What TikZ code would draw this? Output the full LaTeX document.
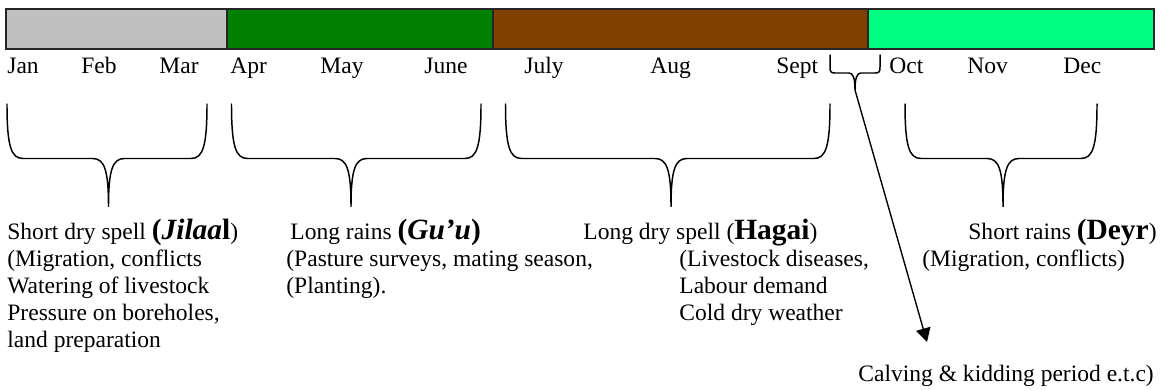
\documentclass[tikz,border=0pt]{standalone}
\usepackage{fontspec}
\setmainfont{Liberation Serif}
\usetikzlibrary{arrows.meta}
\definecolor{barGray}{HTML}{C0C0C0}
\definecolor{barGreen}{HTML}{008000}
\definecolor{barBrown}{HTML}{804000}
\definecolor{barSpring}{HTML}{00FF80}
\newcommand{\bigb}[1]{{\fontsize{15}{17}\selectfont\bfseries #1}}
\newcommand{\mybrace}[3]{%
  \draw[bracestyle] (#1,104) .. controls (#1,146) and (#1+4,158.5) .. (#1+16,158.5)
    -- (#2-16,158.5) .. controls (#2-4,158.5) and (#2,170) .. (#2,207)
    .. controls (#2,170) and (#2+4,158.5) .. (#2+16,158.5)
    -- (#3-16,158.5) .. controls (#3-4,158.5) and (#3,146) .. (#3,104);}
\begin{document}
\begin{tikzpicture}[x=0.51pt,y=-0.51pt,
  lbl/.style={anchor=base west, inner sep=0pt, font=\fontsize{12}{14}\selectfont},
  seg/.style={draw=black!85, line width=0.6pt},
  bracestyle/.style={line width=0.75pt, line cap=round},
  pointer/.style={line width=0.7pt, -{Triangle[length=7pt,width=7.5pt]}}]
\useasboundingbox (0,0) rectangle (1160,390);
% season bar
\path[seg, fill=barGray]   (6,9)   rectangle (227,49);
\path[seg, fill=barGreen]  (227,9) rectangle (493,49);
\path[seg, fill=barBrown]  (493,9) rectangle (868,49);
\path[seg, fill=barSpring] (868,9) rectangle (1154,49);
% months
\node[lbl] (jan) at (7,74) {Jan};
\node[lbl] (feb) at (81,74) {Feb};
\node[lbl] (mar) at (159,74) {Mar};
\node[lbl] (apr) at (230,74) {Apr};
\node[lbl] (may) at (320,74) {May};
\node[lbl] (jun) at (424,74) {June};
\node[lbl] (jul) at (524,74) {July};
\node[lbl] (aug) at (650,74) {Aug};
\node[lbl] (sep) at (776,74) {Sept};
\node[lbl] (oct) at (889,74) {Oct};
\node[lbl] (nov) at (967,74) {Nov};
\node[lbl] (dec) at (1063,74) {Dec};
% big braces
\mybrace{7}{108.5}{207}
\mybrace{231.5}{351}{481}
\mybrace{505.5}{671}{830}
\mybrace{905}{1003}{1097}
% small brace between Sept and Oct
\draw[bracestyle] (830,55) -- (830,67) .. controls (830,72) and (831,73) .. (835,73)
  -- (849,73) .. controls (853,73) and (855,78) .. (855,90)
  .. controls (855,78) and (857,73) .. (861,73)
  -- (875,73) .. controls (879,73) and (880,72) .. (880,67) -- (880,55);
\coordinate (sbtip) at (855,90);
\coordinate (calvpt) at (927,342);
\draw[pointer] (sbtip) -- (calvpt);
% season texts
\node[lbl] (j1) at (7,240) {Short dry spell \bigb{(\textit{Jilaa}l})};
\node[lbl] (j2) at (7,267) {(Migration, conflicts};
\node[lbl] (j3) at (7,294) {Watering of livestock};
\node[lbl] (j4) at (7,321) {Pressure on boreholes,};
\node[lbl] (j5) at (7,348) {land preparation};
\node[lbl] (g1) at (290,240) {Long rains \bigb{(\textit{Gu’u})}};
\node[lbl] (g2) at (286,267) {(Pasture surveys, mating season,};
\node[lbl] (g3) at (286,294) {(Planting).};
\node[lbl] (h1) at (583,240) {Long dry spell (\bigb{Hagai})};
\node[lbl] (h2) at (679,267) {(Livestock diseases,};
\node[lbl] (h3) at (679,294) {Labour demand};
\node[lbl] (h4) at (679,321) {Cold dry weather};
\node[lbl] (d1) at (968,240) {Short rains \bigb{(Deyr})};
\node[lbl] (d2) at (922,267) {(Migration, conflicts)};
\node[lbl] (calv) at (858,382) {Calving \& kidding period e.t.c)};
\end{tikzpicture}
\end{document}
